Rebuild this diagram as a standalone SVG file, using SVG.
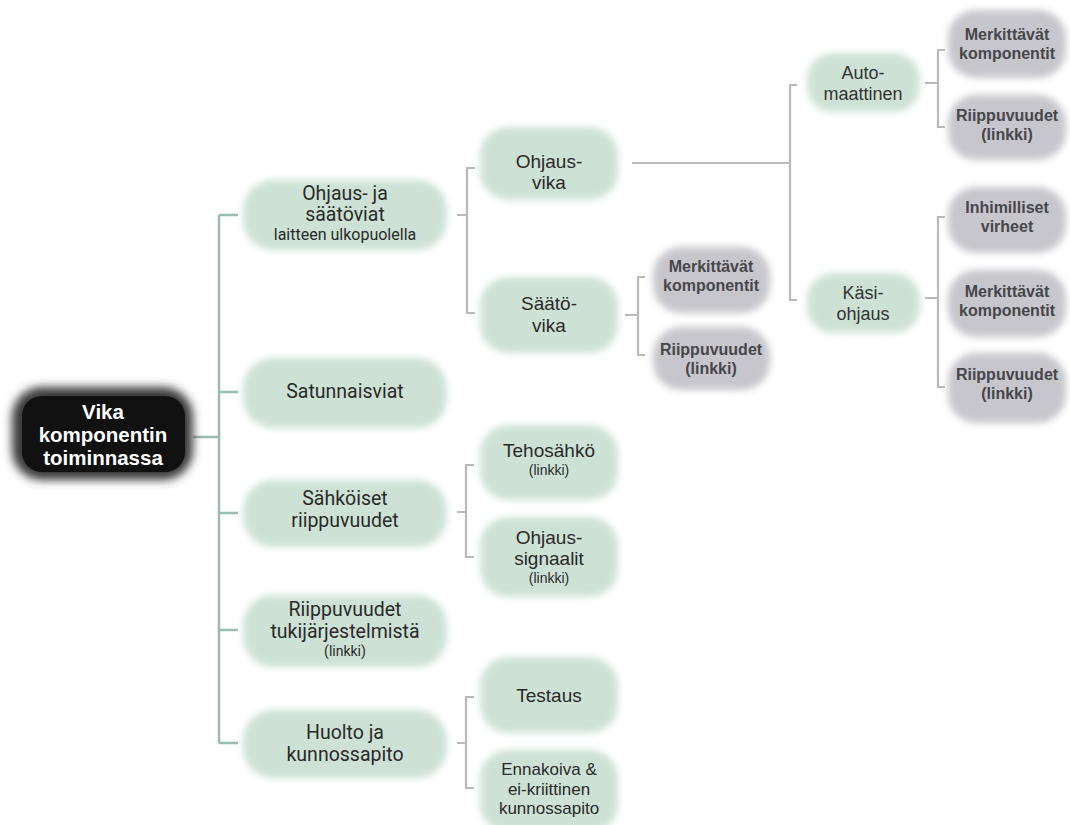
<svg xmlns="http://www.w3.org/2000/svg" width="1070" height="825" viewBox="0 0 1070 825">
<style>
.bg{fill:#ffffff}
.gn{fill:#cde2d5;filter:url(#soft)}
.gy{fill:#c6c6cc;filter:url(#soft)}
.halo{fill:#3a3a3a;filter:url(#halo)}
.core{fill:#111111}
.ct{stroke:#98bdb1;stroke-width:2.5;fill:none}
.cg{stroke:#b9b9b9;stroke-width:2.2;fill:none}
text{text-anchor:middle}
.rt{font-family:"Liberation Sans",Arial,sans-serif;font-weight:bold;font-size:20.5px;fill:#ffffff}
.t1{font-family:Roboto,"Liberation Sans",sans-serif;font-size:19.5px;fill:#2a2a2a}
.s16{font-size:16px}
.s14{font-size:14px}
.t2{font-family:"Liberation Sans",Arial,sans-serif;font-size:19px;fill:#2a2a2a}
.t2m{font-family:"Liberation Sans",Arial,sans-serif;font-size:17px;fill:#2a2a2a}
.t3{font-family:"Liberation Sans",Arial,sans-serif;font-size:18px;fill:#333333}
.tg{font-family:"Liberation Sans",Arial,sans-serif;font-weight:bold;font-size:16px;fill:#46464b}
</style>
<defs>
<filter id="soft" x="-20%" y="-30%" width="140%" height="160%"><feGaussianBlur stdDeviation="3.5"/></filter>
<filter id="halo" x="-20%" y="-30%" width="140%" height="160%"><feGaussianBlur stdDeviation="5"/></filter>
</defs>
<rect class="bg" x="0" y="0" width="1070" height="825"/>
<g id="connectors">
<path class="ct" d="M193,437 H219 M219,215 V743 M219,215 H238 M219,392 H238 M219,513 H238 M219,630 H238 M219,743 H238"/>
<path class="cg" d="M457,215 H467 M475,168 H467 V313 H475"/>
<path class="cg" d="M457,512 H466 M474,465 H466 V557 H474"/>
<path class="cg" d="M457,743 H466 M474,697 H466 V788 H474"/>
<path class="cg" d="M625,315 H638 M645,277 H638 V355 H645"/>
<path class="cg" d="M632,163 H790 M797,85 H790 V300 H797"/>
<path class="cg" d="M925,83 H938 M945,50 H938 V127 H945"/>
<path class="cg" d="M925,298 H938 M945,217 H938 V387 H945"/>
</g>
<g id="root">
<rect class="halo" x="12" y="387" width="181" height="93" rx="30"/>
<rect class="core" x="22" y="396" width="163" height="76" rx="20"/>
<text class="rt" x="103" y="419"><tspan x="103">Vika</tspan><tspan x="103" dy="23">komponentin</tspan><tspan x="103" dy="23">toiminnassa</tspan></text>
</g>
<g id="n-ohjaus-saato">
<rect class="gn" x="243" y="180" width="204" height="70" rx="30"/>
<text class="t1" x="345" y="200"><tspan x="345">Ohjaus- ja</tspan><tspan x="345" dy="21">säätöviat</tspan><tspan x="345" dy="19" class="s16">laitteen ulkopuolella</tspan></text>
</g>
<g id="n-satunnaisviat">
<rect class="gn" x="243" y="358" width="204" height="70" rx="30"/>
<text class="t1" x="345" y="398">Satunnaisviat</text>
</g>
<g id="n-sahkoiset">
<rect class="gn" x="243" y="480" width="204" height="67" rx="30"/>
<text class="t1" x="345" y="505"><tspan x="345">Sähköiset</tspan><tspan x="345" dy="22">riippuvuudet</tspan></text>
</g>
<g id="n-tuki">
<rect class="gn" x="243" y="595" width="204" height="72" rx="30"/>
<text class="t1" x="345" y="616"><tspan x="345">Riippuvuudet</tspan><tspan x="345" dy="22">tukijärjestelmistä</tspan><tspan x="345" dy="18" class="s14">(linkki)</tspan></text>
</g>
<g id="n-huolto">
<rect class="gn" x="243" y="710" width="204" height="68" rx="30"/>
<text class="t1" x="345" y="739"><tspan x="345">Huolto ja</tspan><tspan x="345" dy="22">kunnossapito</tspan></text>
</g>
<g id="n-ohjausvika">
<rect class="gn" x="480" y="127" width="138" height="73" rx="28"/>
<text class="t2" x="549" y="168"><tspan x="549">Ohjaus-</tspan><tspan x="549" dy="21">vika</tspan></text>
</g>
<g id="n-saatovika">
<rect class="gn" x="480" y="277" width="138" height="76" rx="28"/>
<text class="t2" x="549" y="310"><tspan x="549">Säätö-</tspan><tspan x="549" dy="22">vika</tspan></text>
</g>
<g id="n-tehosahko">
<rect class="gn" x="480" y="425" width="138" height="75" rx="28"/>
<text class="t2" x="549" y="457"><tspan x="549">Tehosähkö</tspan><tspan x="549" dy="18" class="s14">(linkki)</tspan></text>
</g>
<g id="n-signaalit">
<rect class="gn" x="480" y="517" width="138" height="80" rx="28"/>
<text class="t2" x="549" y="544"><tspan x="549">Ohjaus-</tspan><tspan x="549" dy="21">signaalit</tspan><tspan x="549" dy="18" class="s14">(linkki)</tspan></text>
</g>
<g id="n-testaus">
<rect class="gn" x="480" y="657" width="138" height="76" rx="28"/>
<text class="t2" x="549" y="702">Testaus</text>
</g>
<g id="n-ennakoiva">
<rect class="gn" x="480" y="750" width="138" height="82" rx="28"/>
<text class="t2m" x="549" y="775"><tspan x="549">Ennakoiva &amp;</tspan><tspan x="549" dy="19.5">ei-kriittinen</tspan><tspan x="549" dy="19.5">kunnossapito</tspan></text>
</g>
<g id="n-saato-merk">
<rect class="gy" x="653" y="247" width="117" height="66" rx="28"/>
<text class="tg" x="711" y="272"><tspan x="711">Merkittävät</tspan><tspan x="711" dy="18.5">komponentit</tspan></text>
</g>
<g id="n-saato-riip">
<rect class="gy" x="653" y="327" width="117" height="63" rx="28"/>
<text class="tg" x="711" y="355"><tspan x="711">Riippuvuudet</tspan><tspan x="711" dy="18.5">(linkki)</tspan></text>
</g>
<g id="n-auto">
<rect class="gn" x="807" y="53" width="113" height="59" rx="26"/>
<text class="t3" x="863" y="79"><tspan x="863">Auto-</tspan><tspan x="863" dy="20.5">maattinen</tspan></text>
</g>
<g id="n-kasi">
<rect class="gn" x="807" y="273" width="113" height="60" rx="26"/>
<text class="t3" x="863" y="299"><tspan x="863">Käsi-</tspan><tspan x="863" dy="20.5">ohjaus</tspan></text>
</g>
<g id="n-auto-merk">
<rect class="gy" x="948" y="10" width="118" height="68" rx="28"/>
<text class="tg" x="1007" y="40"><tspan x="1007">Merkittävät</tspan><tspan x="1007" dy="18.5">komponentit</tspan></text>
</g>
<g id="n-auto-riip">
<rect class="gy" x="948" y="95" width="118" height="65" rx="28"/>
<text class="tg" x="1007" y="121"><tspan x="1007">Riippuvuudet</tspan><tspan x="1007" dy="18.5">(linkki)</tspan></text>
</g>
<g id="n-kasi-inh">
<rect class="gy" x="948" y="187" width="118" height="66" rx="28"/>
<text class="tg" x="1007" y="213"><tspan x="1007">Inhimilliset</tspan><tspan x="1007" dy="18.5">virheet</tspan></text>
</g>
<g id="n-kasi-merk">
<rect class="gy" x="948" y="270" width="118" height="67" rx="28"/>
<text class="tg" x="1007" y="297"><tspan x="1007">Merkittävät</tspan><tspan x="1007" dy="18.5">komponentit</tspan></text>
</g>
<g id="n-kasi-riip">
<rect class="gy" x="948" y="353" width="118" height="70" rx="28"/>
<text class="tg" x="1007" y="380"><tspan x="1007">Riippuvuudet</tspan><tspan x="1007" dy="18.5">(linkki)</tspan></text>
</g>
</svg>
